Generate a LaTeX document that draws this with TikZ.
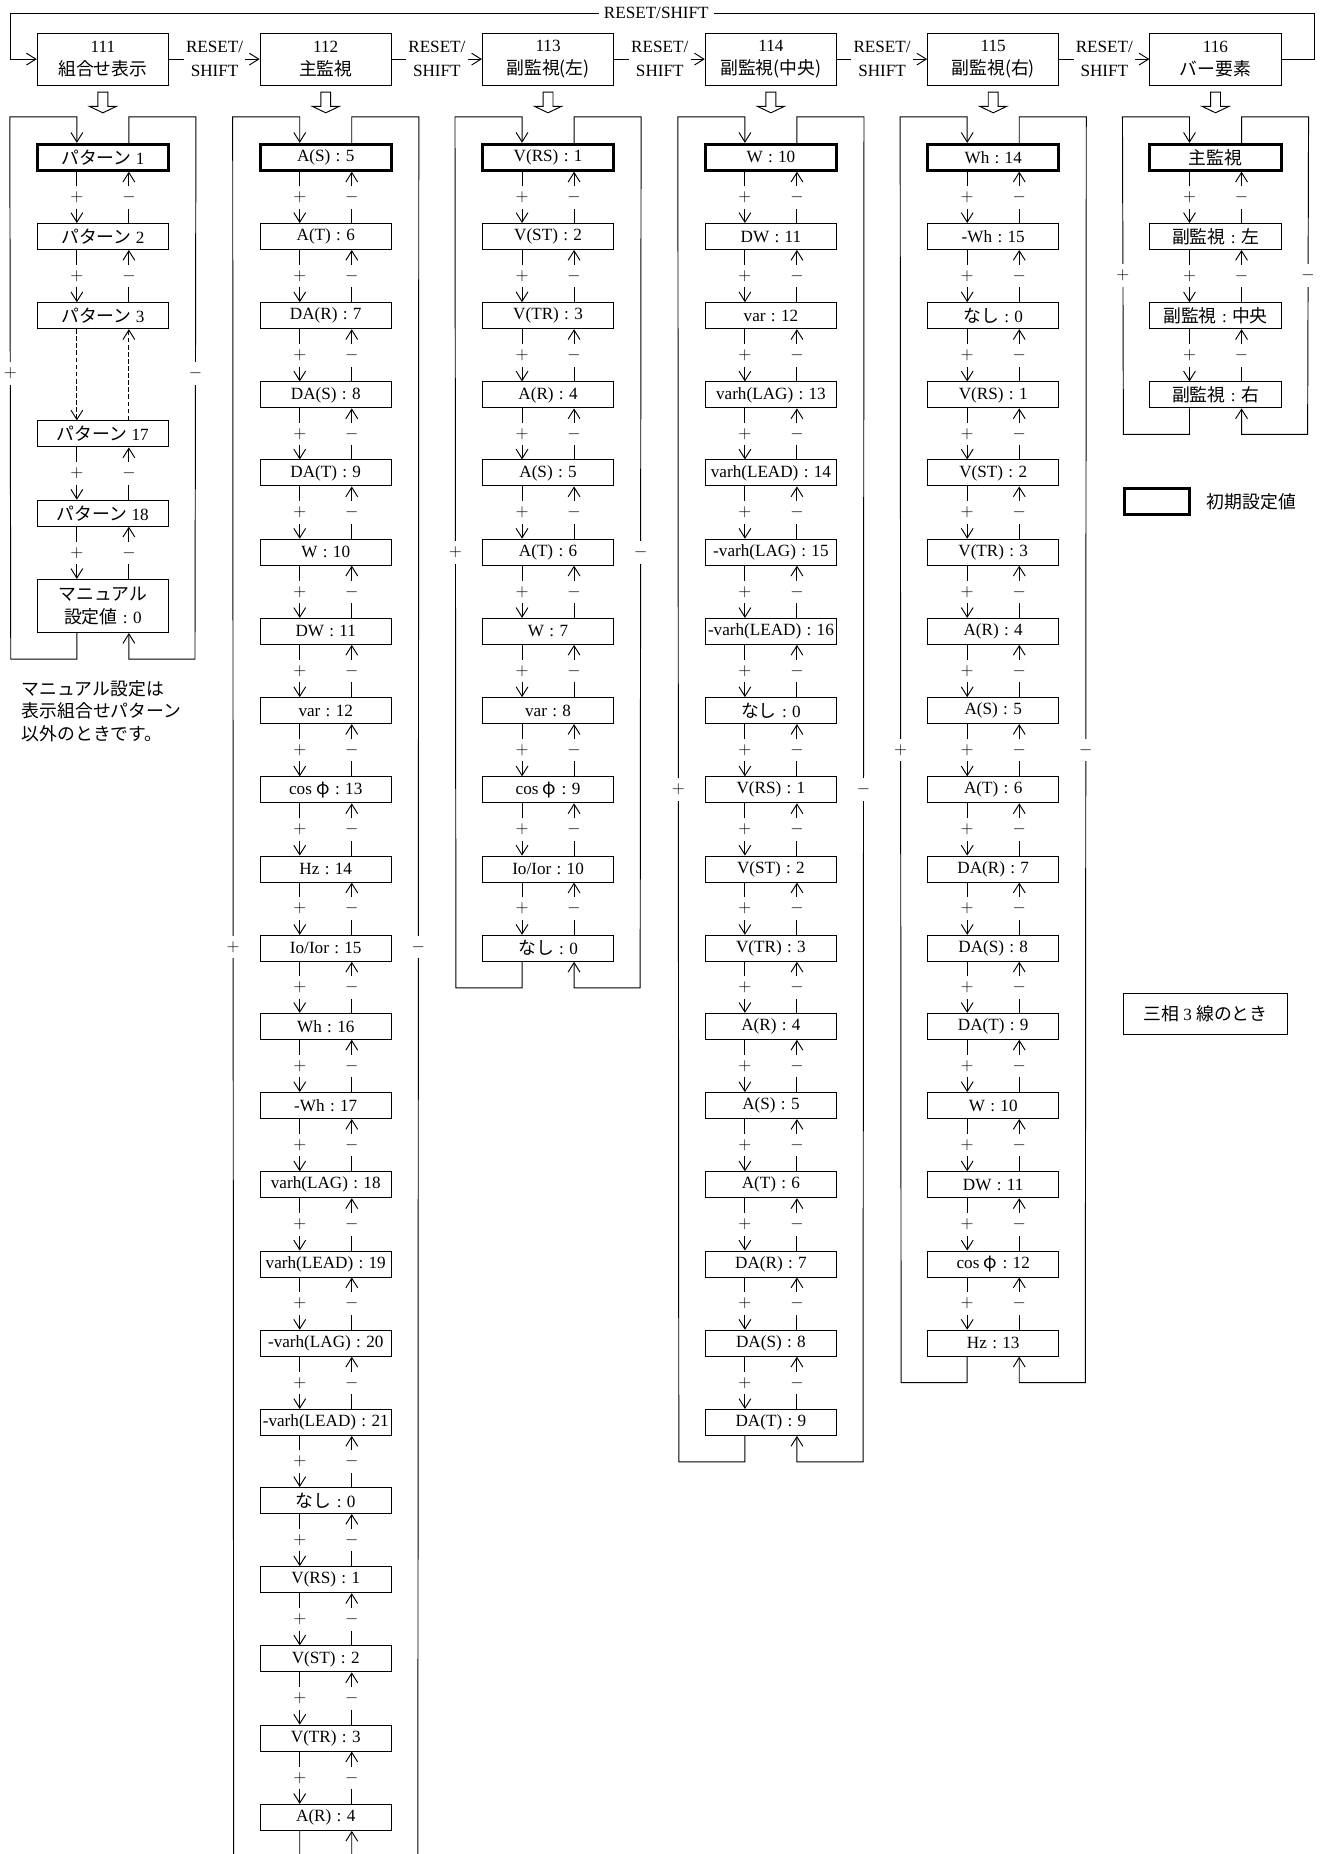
\documentclass[tikz,border=0pt]{standalone}
\usepackage{fontspec}
\setmainfont{Liberation Serif}
\newfontfamily\jp[Scale=1.04]{Noto Sans CJK JP}
\usetikzlibrary{arrows.meta,positioning}
\newcommand\cln{\hspace{4.5pt}:\hspace{4.5pt}}
\tikzset{
  >={Straight Barb[length=8pt,width=10pt]},
  item/.style={draw,minimum width=111pt,minimum height=22pt,inner sep=1pt},
  firstitem/.style={item,line width=2.4pt},
  modebox/.style={draw,minimum width=111pt,minimum height=44pt,inner sep=1pt,align=center},
  sw/.style={align=center,inner sep=1.5pt},
  pm/.style={fill=white,inner sep=0pt,minimum height=19pt,minimum width=12pt,
    font=\fontsize{14.5}{20}\selectfont},
}
\begin{document}
\begin{tikzpicture}[x=1pt,y=-1pt,line width=.8pt,
  every node/.style={font=\fontsize{14.5}{20}\selectfont}]
 \clip (0,0) rectangle (1118,1568);
 % mode boxes
 \node[modebox] (t1) at (87,50) {111\\{\jp 組合せ表示}};
 \node[modebox] (t2) at (275.5,50) {112\\{\jp 主監視}};
 \node[modebox] (t3) at (463.5,50) {113\\{\jp 副監視(左)}};
 \node[modebox] (t4) at (652,50) {114\\{\jp 副監視(中央)}};
 \node[modebox] (t5) at (840,50) {115\\{\jp 副監視(右)}};
 \node[modebox] (t6) at (1028,50) {116\\{\jp バー要素}};
 \node[sw] (r1) at (181.5,50) {RESET/\\SHIFT};
 \node[sw] (r2) at (369.5,50) {RESET/\\SHIFT};
 \node[sw] (r3) at (558,50) {RESET/\\SHIFT};
 \node[sw] (r4) at (746,50) {RESET/\\SHIFT};
 \node[sw] (r5) at (934,50) {RESET/\\SHIFT};
 \node[inner sep=4pt] (rtop) at (555,11) {RESET/SHIFT};
 \foreach \i [evaluate=\i as \j using int(\i+1)] in {1,...,5} {
  \draw (t\i.east) -- (r\i.west);
  \draw[->] (r\i.east) -- (t\j.west);
 }
 \draw (t6.east) -- ++(28,0) |- (rtop.east);
 \draw[->] (rtop.west) -| ([xshift=-22pt]t1.west) -- (t1.west);
 \foreach \i in {1,...,6}
  \draw ([yshift=-5.5pt]t\i.south) ++(-4.2,0) -- ++(0,12) -- ++(-7.3,0)
   -- ++(11.5,5.5) -- ++(11.5,-5.5) -- ++(-7.3,0) -- ++(0,-12) -- cycle;

 % 111
 \node[firstitem] (a1) at (87,133) {{\jp パターン} 1};
 \node[item] (a2) at (87,200) {{\jp パターン} 2};
 \node[item] (a3) at (87,267) {{\jp パターン} 3};
 \node[item] (a4) at (87,367) {{\jp パターン} 17};
 \node[item] (a5) at (87,434) {{\jp パターン} 18};
 \node[item,minimum height=45pt,align=center] (a6) at (87,512.5)
  {{\jp マニュアル}\\{\jp 設定値}\cln 0};
 \node[anchor=north west,align=left,inner sep=0pt,
  font=\fontsize{14.5}{19}\selectfont\jp] (note) at (18,575)
  {マニュアル設定は\\表示組合せパターン\\以外のときです。};

 % 112
 \node[firstitem] (b1) at (275.5,133) {A(S)\cln 5};
 \node[item] (b2) at (275.5,200) {A(T)\cln 6};
 \node[item] (b3) at (275.5,267) {DA(R)\cln 7};
 \node[item] (b4) at (275.5,334) {DA(S)\cln 8};
 \node[item] (b5) at (275.5,400) {DA(T)\cln 9};
 \node[item] (b6) at (275.5,467) {W\cln 10};
 \node[item] (b7) at (275.5,534) {DW\cln 11};
 \node[item] (b8) at (275.5,601) {var\cln 12};
 \node[item] (b9) at (275.5,668) {cos {\jp φ}\cln 13};
 \node[item] (b10) at (275.5,735) {Hz\cln 14};
 \node[item] (b11) at (275.5,802) {Io/Ior\cln 15};
 \node[item] (b12) at (275.5,868) {Wh\cln 16};
 \node[item] (b13) at (275.5,935) {-Wh\cln 17};
 \node[item] (b14) at (275.5,1002) {varh(LAG)\cln 18};
 \node[item] (b15) at (275.5,1069) {varh(LEAD)\cln 19};
 \node[item] (b16) at (275.5,1136) {-varh(LAG)\cln 20};
 \node[item] (b17) at (275.5,1203) {-varh(LEAD)\cln 21};
 \node[item] (b18) at (275.5,1269) {{\jp なし}\cln 0};
 \node[item] (b19) at (275.5,1336) {V(RS)\cln 1};
 \node[item] (b20) at (275.5,1403) {V(ST)\cln 2};
 \node[item] (b21) at (275.5,1470) {V(TR)\cln 3};
 \node[item] (b22) at (275.5,1537) {A(R)\cln 4};

 % 113
 \node[firstitem] (c1) at (463.5,133) {V(RS)\cln 1};
 \node[item] (c2) at (463.5,200) {V(ST)\cln 2};
 \node[item] (c3) at (463.5,267) {V(TR)\cln 3};
 \node[item] (c4) at (463.5,334) {A(R)\cln 4};
 \node[item] (c5) at (463.5,400) {A(S)\cln 5};
 \node[item] (c6) at (463.5,467) {A(T)\cln 6};
 \node[item] (c7) at (463.5,534) {W\cln 7};
 \node[item] (c8) at (463.5,601) {var\cln 8};
 \node[item] (c9) at (463.5,668) {cos {\jp φ}\cln 9};
 \node[item] (c10) at (463.5,735) {Io/Ior\cln 10};
 \node[item] (c11) at (463.5,802) {{\jp なし}\cln 0};

 % 114
 \node[firstitem] (d1) at (652,133) {W\cln 10};
 \node[item] (d2) at (652,200) {DW\cln 11};
 \node[item] (d3) at (652,267) {var\cln 12};
 \node[item] (d4) at (652,334) {varh(LAG)\cln 13};
 \node[item] (d5) at (652,400) {varh(LEAD)\cln 14};
 \node[item] (d6) at (652,467) {-varh(LAG)\cln 15};
 \node[item] (d7) at (652,534) {-varh(LEAD)\cln 16};
 \node[item] (d8) at (652,601) {{\jp なし}\cln 0};
 \node[item] (d9) at (652,668) {V(RS)\cln 1};
 \node[item] (d10) at (652,735) {V(ST)\cln 2};
 \node[item] (d11) at (652,802) {V(TR)\cln 3};
 \node[item] (d12) at (652,868) {A(R)\cln 4};
 \node[item] (d13) at (652,935) {A(S)\cln 5};
 \node[item] (d14) at (652,1002) {A(T)\cln 6};
 \node[item] (d15) at (652,1069) {DA(R)\cln 7};
 \node[item] (d16) at (652,1136) {DA(S)\cln 8};
 \node[item] (d17) at (652,1203) {DA(T)\cln 9};

 % 115
 \node[firstitem] (e1) at (840,133) {Wh\cln 14};
 \node[item] (e2) at (840,200) {-Wh\cln 15};
 \node[item] (e3) at (840,267) {{\jp なし}\cln 0};
 \node[item] (e4) at (840,334) {V(RS)\cln 1};
 \node[item] (e5) at (840,400) {V(ST)\cln 2};
 \node[item] (e6) at (840,467) {V(TR)\cln 3};
 \node[item] (e7) at (840,534) {A(R)\cln 4};
 \node[item] (e8) at (840,601) {A(S)\cln 5};
 \node[item] (e9) at (840,668) {A(T)\cln 6};
 \node[item] (e10) at (840,735) {DA(R)\cln 7};
 \node[item] (e11) at (840,802) {DA(S)\cln 8};
 \node[item] (e12) at (840,868) {DA(T)\cln 9};
 \node[item] (e13) at (840,935) {W\cln 10};
 \node[item] (e14) at (840,1002) {DW\cln 11};
 \node[item] (e15) at (840,1069) {cos {\jp φ}\cln 12};
 \node[item] (e16) at (840,1136) {Hz\cln 13};

 % 116
 \node[firstitem] (f1) at (1028,133) {\jp 主監視};
 \node[item] (f2) at (1028,200) {{\jp 副監視}\cln{\jp 左}};
 \node[item] (f3) at (1028,267) {{\jp 副監視}\cln{\jp 中央}};
 \node[item] (f4) at (1028,334) {{\jp 副監視}\cln{\jp 右}};

 % legend
 \node[firstitem,minimum width=55pt] (legbox) at (978.5,424) {};
 \node[right=12pt of legbox,inner sep=1pt] (legtext) {\jp 初期設定値};
 \node[draw,minimum width=138pt,minimum height=34pt] (wiring) at (1019.5,857.5)
  {{\jp 三相} 3 {\jp 線のとき}};

 % steps
 \foreach \i/\j in {1/2,2/3,4/5,5/6} {
  \draw[->] ([xshift=-22pt]a\i.south) -- node[pm]{$+$} ([xshift=-22pt]a\j.north);
  \draw[->] ([xshift=22pt]a\j.north) -- node[pm]{$-$} ([xshift=22pt]a\i.south);
 }
 \draw[->,dash pattern=on 4pt off 2pt] ([xshift=-22pt]a3.south) -- ([xshift=-22pt]a4.north);
 \draw[->,dash pattern=on 4pt off 2pt] ([xshift=22pt]a4.north) -- ([xshift=22pt]a3.south);
 \foreach \n/\k in {b/22,c/11,d/17,e/16,f/4} {
  \foreach \j [evaluate=\j as \i using int(\j-1)] in {2,...,\k} {
   \draw[->] ([xshift=-22pt]\n\i.south) -- node[pm]{$+$} ([xshift=-22pt]\n\j.north);
   \draw[->] ([xshift=22pt]\n\j.north) -- node[pm]{$-$} ([xshift=22pt]\n\i.south);
  }
 }

 % wrap-around
 \foreach \n/\k/\p/\q in {a/6/.527/.473,b/22/.523/.477,c/11/.5/.5,d/17/.5/.5,e/16/.5/.5,f/4/.5/.5} {
  \draw[->] ([xshift=-22pt]\n\k.south) |- ([shift={(-22pt,-22pt)}]\n\k.south west)
   -- node[pm,pos=\p]{$+$} ([shift={(-22pt,22pt)}]\n1.north west) -| ([xshift=-22pt]\n1.north);
  \draw[->] ([xshift=22pt]\n1.north) |- ([shift={(22pt,22pt)}]\n1.north east)
   -- node[pm,pos=\q]{$-$} ([shift={(22pt,-22pt)}]\n\k.south east) -| ([xshift=22pt]\n\k.south);
 }
\end{tikzpicture}
\end{document}
